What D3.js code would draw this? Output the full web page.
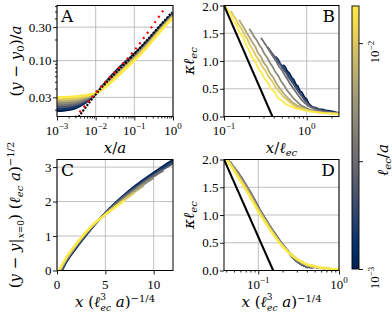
<!DOCTYPE html>
<html>
<head>
<meta charset="utf-8">
<script src="https://cdn.jsdelivr.net/npm/d3@7"></script>
<style>
  body { margin: 0; background: #fff; }
  svg { display: block; }
  text { font-family: "DejaVu Serif", serif; fill: #000; }
  .tick-label { font-family: "Liberation Serif", serif; font-size: 13px; }
</style>
</head>
<body>
<svg id="chart"></svg>
<script>
// ell_ec / a for each simulated curve (colour key), blue -> yellow
const ellValues = [0.001, 0.00147, 0.00215, 0.00316, 0.00464, 0.00681, 0.01, 0.0146];

// Panel A: (y - y0)/a against x/a
const aX = [0.001, 0.002, 0.003, 0.005, 0.007, 0.01, 0.02, 0.05, 0.1, 0.2, 0.5, 1];
const aY = [
  [0.0193, 0.0200, 0.0212, 0.0245, 0.0285, 0.0335, 0.052, 0.088, 0.124, 0.180, 0.320, 0.470],
  [0.0206, 0.0212, 0.0223, 0.0254, 0.0290, 0.0337, 0.051, 0.086, 0.121, 0.176, 0.313, 0.462],
  [0.0219, 0.0225, 0.0235, 0.0263, 0.0296, 0.0338, 0.050, 0.084, 0.118, 0.172, 0.306, 0.453],
  [0.0233, 0.0238, 0.0247, 0.0273, 0.0302, 0.0339, 0.049, 0.081, 0.115, 0.167, 0.299, 0.445],
  [0.0248, 0.0252, 0.0260, 0.0282, 0.0308, 0.0340, 0.048, 0.079, 0.111, 0.163, 0.292, 0.436],
  [0.0265, 0.0268, 0.0275, 0.0293, 0.0314, 0.0341, 0.047, 0.076, 0.108, 0.159, 0.285, 0.428],
  [0.0282, 0.0285, 0.0290, 0.0305, 0.0321, 0.0342, 0.0455, 0.073, 0.104, 0.154, 0.277, 0.419],
  [0.0300, 0.0303, 0.0308, 0.0318, 0.0328, 0.0344, 0.044, 0.070, 0.100, 0.150, 0.270, 0.410]
];
const aBlackX = [0.0036, 0.01, 0.1, 0.94];
const aBlackY = [0.0158, 0.033, 0.124, 0.49];
const aRedX = [0.003, 0.01, 0.1, 0.63];
const aRedY = [0.0155, 0.035, 0.14, 0.57];

// Panel B: kappa*ell_ec against x/ell_ec
const bX = [
  [0.52, 0.55, 0.58, 0.62, 0.66, 0.70, 0.74, 0.78, 0.83, 0.88, 0.94, 1.0, 1.05, 1.1, 1.18, 1.28, 1.4, 1.55, 1.7, 1.9, 2.1, 2.3, 2.45],
  [0.42, 0.45, 0.48, 0.51, 0.55, 0.59, 0.63, 0.68, 0.73, 0.78, 0.84, 0.90, 0.97, 1.04, 1.12, 1.22, 1.35, 1.5, 1.7, 1.95, 2.2, 2.45],
  [0.34, 0.36, 0.39, 0.42, 0.45, 0.48, 0.52, 0.56, 0.60, 0.65, 0.70, 0.75, 0.81, 0.88, 0.95, 1.03, 1.12, 1.25, 1.4, 1.6, 1.85, 2.1, 2.45],
  [0.28, 0.30, 0.32, 0.345, 0.37, 0.40, 0.43, 0.46, 0.50, 0.54, 0.58, 0.63, 0.68, 0.74, 0.80, 0.87, 0.95, 1.05, 1.18, 1.35, 1.6, 1.95, 2.45],
  [0.202, 0.216, 0.23, 0.248, 0.267, 0.285, 0.308, 0.331, 0.359, 0.386, 0.419, 0.451, 0.488, 0.534, 0.58, 0.635, 0.699, 0.773, 0.856, 0.966, 1.1, 1.33, 1.66, 2.45],
  [0.153, 0.162, 0.176, 0.189, 0.203, 0.221, 0.239, 0.257, 0.279, 0.302, 0.329, 0.36, 0.396, 0.432, 0.477, 0.531, 0.594, 0.666, 0.756, 0.864, 0.99, 1.22, 1.53, 2.45],
  [0.121, 0.130, 0.140, 0.149, 0.163, 0.177, 0.191, 0.205, 0.223, 0.242, 0.265, 0.288, 0.316, 0.344, 0.381, 0.419, 0.465, 0.521, 0.586, 0.67, 0.763, 0.884, 1.02, 1.26, 1.63, 2.45],
  [0.10, 0.11, 0.12, 0.13, 0.14, 0.155, 0.17, 0.185, 0.20, 0.22, 0.24, 0.26, 0.285, 0.31, 0.34, 0.37, 0.41, 0.45, 0.50, 0.56, 0.63, 0.72, 0.82, 0.95, 1.1, 1.3, 1.6, 2.0, 2.45]
];
const bY = [
  [0.93, 0.89, 0.82, 0.78, 0.70, 0.66, 0.58, 0.55, 0.46, 0.43, 0.35, 0.31, 0.24, 0.21, 0.17, 0.16, 0.13, 0.13, 0.11, 0.10, 0.09, 0.07, 0.07],
  [1.08, 1.03, 0.95, 0.91, 0.82, 0.78, 0.69, 0.63, 0.55, 0.50, 0.41, 0.36, 0.28, 0.23, 0.18, 0.15, 0.13, 0.11, 0.10, 0.08, 0.07, 0.06],
  [1.25, 1.19, 1.12, 1.06, 0.98, 0.94, 0.85, 0.79, 0.71, 0.64, 0.57, 0.50, 0.43, 0.36, 0.29, 0.23, 0.18, 0.15, 0.12, 0.10, 0.08, 0.07, 0.05],
  [1.42, 1.35, 1.29, 1.21, 1.14, 1.06, 0.99, 0.91, 0.84, 0.75, 0.68, 0.59, 0.52, 0.44, 0.37, 0.30, 0.24, 0.19, 0.15, 0.11, 0.09, 0.07, 0.05],
  [1.58, 1.52, 1.44, 1.38, 1.29, 1.23, 1.13, 1.07, 0.97, 0.90, 0.80, 0.74, 0.64, 0.56, 0.47, 0.40, 0.32, 0.26, 0.20, 0.16, 0.12, 0.09, 0.07, 0.05],
  [1.74, 1.67, 1.59, 1.50, 1.43, 1.33, 1.26, 1.15, 1.08, 0.97, 0.90, 0.78, 0.70, 0.59, 0.50, 0.41, 0.33, 0.26, 0.20, 0.16, 0.12, 0.09, 0.07, 0.05],
  [1.90, 1.82, 1.75, 1.66, 1.58, 1.47, 1.40, 1.29, 1.21, 1.10, 1.02, 0.91, 0.83, 0.72, 0.64, 0.53, 0.45, 0.36, 0.29, 0.22, 0.17, 0.14, 0.11, 0.08, 0.06, 0.05],
  [2.05, 1.93, 1.84, 1.72, 1.66, 1.51, 1.43, 1.29, 1.20, 1.06, 0.99, 0.86, 0.79, 0.68, 0.61, 0.50, 0.44, 0.33, 0.29, 0.22, 0.19, 0.15, 0.13, 0.11, 0.09, 0.08, 0.06, 0.05, 0.04]
];
const bBlackX = [0.1, 0.385];
const bBlackY = [2.0, 0.0];

// Panel C: rescaled height against rescaled x
const cX = [
  [0.5, 1, 2, 3, 4, 5, 6, 7, 8, 9, 10, 11, 12],
  [0.45, 1, 2, 3, 4, 5, 6, 7, 8, 9, 10, 11, 12],
  [0.4, 1, 2, 3, 4, 5, 6, 7, 8, 9, 10, 11, 12],
  [0.35, 1, 2, 3, 4, 5, 6, 7, 8, 9, 10, 11],
  [0.3, 1, 2, 3, 4, 5, 6, 7, 8, 9, 10],
  [0.27, 1, 2, 3, 4, 5, 6, 7, 8, 9],
  [0.23, 1, 2, 3, 4, 5, 6, 7, 8],
  [0.2, 1, 2, 3, 4, 5, 6, 7]
];
const cY = [
  [0, 0.26, 0.66, 1.02, 1.36, 1.67, 1.95, 2.20, 2.43, 2.64, 2.84, 3.03, 3.21],
  [0, 0.28, 0.68, 1.04, 1.37, 1.67, 1.94, 2.18, 2.40, 2.61, 2.80, 2.98, 3.16],
  [0, 0.30, 0.70, 1.06, 1.38, 1.66, 1.92, 2.16, 2.37, 2.57, 2.76, 2.94, 3.11],
  [0, 0.32, 0.72, 1.07, 1.38, 1.65, 1.90, 2.13, 2.34, 2.54, 2.73, 2.90],
  [0, 0.34, 0.74, 1.09, 1.39, 1.64, 1.88, 2.10, 2.31, 2.51, 2.69],
  [0, 0.36, 0.75, 1.10, 1.39, 1.63, 1.86, 2.07, 2.28, 2.47],
  [0, 0.38, 0.77, 1.11, 1.40, 1.62, 1.84, 2.05, 2.25],
  [0, 0.40, 0.78, 1.12, 1.40, 1.62, 1.83, 2.03]
];

// Panel D: kappa*ell_ec against rescaled x
const dX = [0.04, 0.045, 0.05, 0.056, 0.063, 0.07, 0.08, 0.09, 0.1, 0.11, 0.125, 0.14, 0.16, 0.18, 0.2, 0.23, 0.26, 0.3, 0.35, 0.4, 0.48, 0.57, 0.68, 0.8, 1.0];
const dStart = [4, 3, 2, 1, 0, 0, 0, 0];
const dY = [
  [1.60, 1.49, 1.37, 1.23, 1.13, 1.01, 0.91, 0.78, 0.67, 0.55, 0.47, 0.35, 0.27, 0.17, 0.11, 0.06],
  [1.75, 1.63, 1.54, 1.38, 1.27, 1.13, 1.04, 0.90, 0.79, 0.65, 0.56, 0.45, 0.36, 0.25, 0.17, 0.10, 0.07],
  [1.86, 1.75, 1.66, 1.53, 1.41, 1.26, 1.15, 1.02, 0.91, 0.77, 0.66, 0.54, 0.46, 0.35, 0.27, 0.17, 0.12, 0.06, 0.05],
  [1.96, 1.85, 1.77, 1.64, 1.55, 1.39, 1.27, 1.13, 1.03, 0.89, 0.79, 0.64, 0.55, 0.44, 0.36, 0.26, 0.20, 0.11, 0.09, 0.05],
  [2.04, 1.93, 1.86, 1.73, 1.64, 1.51, 1.38, 1.23, 1.12, 1.01, 0.90, 0.77, 0.66, 0.53, 0.46, 0.35, 0.28, 0.18, 0.14, 0.08, 0.07, 0.04],
  [2.04, 1.94, 1.83, 1.73, 1.60, 1.51, 1.35, 1.23, 1.10, 1.01, 0.87, 0.77, 0.63, 0.54, 0.44, 0.36, 0.26, 0.21, 0.13, 0.11, 0.06, 0.05, 0.03],
  [2.03, 1.91, 1.82, 1.70, 1.59, 1.47, 1.34, 1.20, 1.09, 0.98, 0.87, 0.74, 0.63, 0.52, 0.45, 0.34, 0.29, 0.20, 0.16, 0.10, 0.09, 0.05, 0.05, 0.03],
  [2.02, 1.90, 1.80, 1.68, 1.56, 1.45, 1.31, 1.18, 1.06, 0.96, 0.84, 0.73, 0.61, 0.51, 0.43, 0.34, 0.27, 0.21, 0.15, 0.11, 0.08, 0.06, 0.04, 0.03, 0.02]
];
const dBlackX = [0.0376, 0.153];
const dBlackY = [2.0, 0.0];

// tick values
const aXMajor = [1e-3, 1e-2, 1e-1, 1];
const aYMajor = [0.03, 0.1, 0.3];
const aYLabels = ["0.03", "0.10", "0.30"];
const bXMajor = [0.1, 1];
const kYMajor = [0, 0.5, 1, 1.5, 2];
const kYLabels = ["0.0", "0.5", "1.0", "1.5", "2.0"];
const cXMajor = [0, 5, 10];
const cYMajor = [0, 1, 2, 3];
const dXMajor = [0.1, 1];
const cbMajor = [1e-3, 1e-2];
const cbMinor = [3e-3];

const W = 392, H = 314;
const svg = d3.select("#chart").attr("width", W).attr("height", H);
svg.append("rect").attr("width", W).attr("height", H).attr("fill", "#fff");

const cbDomain = [1e-3, 0.0146];
const cbT = d3.scaleLog().domain(cbDomain).range([0, 1]);
const color = v => d3.interpolateCividis(cbT(v));

const boxes = {
  A: { l: 57, r: 173, t: 5.5, b: 116.5 },
  B: { l: 224, r: 339, t: 5.5, b: 116.5 },
  C: { l: 57, r: 173, t: 159.5, b: 270.5 },
  D: { l: 224, r: 339, t: 159.5, b: 270.5 }
};

function logMinors(lo, hi) {
  const out = [];
  for (let e = Math.floor(Math.log10(lo)); e <= Math.ceil(Math.log10(hi)); e++) {
    for (let m = 2; m <= 9; m++) {
      const v = m * Math.pow(10, e);
      if (v >= lo && v <= hi) out.push(v);
    }
  }
  return out;
}

// writes math-like text from parts: {t, i: italic, v: vertical offset, s: size, dx}
function rich(sel, parts) {
  let shift = 0;
  parts.forEach(p => {
    const ts = sel.append("tspan").text(p.t);
    if (p.i) ts.attr("font-style", "italic");
    const v = p.v || 0;
    if (v !== shift) { ts.attr("dy", v - shift); shift = v; }
    if (p.s) ts.attr("font-size", p.s);
    if (p.dx) ts.attr("dx", p.dx);
  });
  return sel;
}

const pow10 = v => [{ t: "10" }, { t: "\u2212" + Math.round(-Math.log10(v)), v: -5.5, s: 9 }];
const pow10pos = v => [{ t: "10" }, { t: String(Math.round(Math.log10(v))), v: -5.5, s: 9 }];
const logLabel = v => v < 1 ? pow10(v) : pow10pos(v);

function panel(key, x, y, o) {
  const bx = boxes[key];
  const g = svg.append("g");
  // grid
  g.append("g").selectAll("line").data(o.xMajor).join("line")
    .attr("x1", d => x(d)).attr("x2", d => x(d)).attr("y1", bx.t).attr("y2", bx.b)
    .attr("stroke", "#b0b0b0").attr("stroke-width", 0.8);
  g.append("g").selectAll("line").data(o.yMajor).join("line")
    .attr("y1", d => y(d)).attr("y2", d => y(d)).attr("x1", bx.l).attr("x2", bx.r)
    .attr("stroke", "#b0b0b0").attr("stroke-width", 0.8);

  svg.append("clipPath").attr("id", "clip" + key).append("rect")
    .attr("x", bx.l).attr("y", bx.t).attr("width", bx.r - bx.l).attr("height", bx.b - bx.t);
  const plot = g.append("g").attr("clip-path", `url(#clip${key})`);
  o.draw(plot);

  // axes
  const strip = s => s.call(a => a.select(".domain").remove()).selectAll("line").attr("stroke-width", 0.9);
  g.append("g").attr("transform", `translate(0,${bx.b})`)
    .call(d3.axisBottom(x).tickValues(o.xMajor).tickSize(4).tickFormat("")).call(strip);
  g.append("g").attr("transform", `translate(${bx.l},0)`)
    .call(d3.axisLeft(y).tickValues(o.yMajor).tickSize(4).tickFormat("")).call(strip);
  if (o.xMinor) g.append("g").attr("transform", `translate(0,${bx.b})`)
    .call(d3.axisBottom(x).tickValues(o.xMinor).tickSize(2).tickFormat("")).call(strip);
  if (o.yMinor) g.append("g").attr("transform", `translate(${bx.l},0)`)
    .call(d3.axisLeft(y).tickValues(o.yMinor).tickSize(2).tickFormat("")).call(strip);

  // frame
  g.append("rect").attr("x", bx.l).attr("y", bx.t).attr("width", bx.r - bx.l).attr("height", bx.b - bx.t)
    .attr("fill", "none").attr("stroke", "#000").attr("stroke-width", 1);

  // tick labels
  o.xMajor.forEach((v, i) => {
    rich(g.append("text").attr("class", "tick-label").attr("text-anchor", "middle")
      .attr("x", x(v)).attr("y", bx.b + 18), o.xFmt(v, i));
  });
  o.yMajor.forEach((v, i) => {
    g.append("text").attr("class", "tick-label").attr("text-anchor", "end")
      .attr("x", bx.l - 5.5).attr("y", Math.max(y(v) + 4.5, 11)).text(o.yFmt(v, i));
  });

  // axis titles
  rich(g.append("text").attr("font-size", 15).attr("text-anchor", "middle")
    .attr("x", (bx.l + bx.r) / 2).attr("y", bx.b + 36.5), o.xTitle);
  const ty = (bx.t + bx.b) / 2;
  rich(g.append("text").attr("font-size", 15).attr("text-anchor", "middle")
    .attr("transform", `translate(${bx.l + o.yTitleDx},${ty}) rotate(-90)`), o.yTitle);

  // panel letter
  g.append("text").attr("font-family", "DejaVu Sans").attr("font-size", 17)
    .attr("text-anchor", o.letterRight ? "end" : "start")
    .attr("x", o.letterRight ? bx.r - 4 : bx.l + 4).attr("y", bx.t + 16.5).text(key);
}

// A
{
  const bx = boxes.A;
  const x = d3.scaleLog().domain([1e-3, 1]).range([bx.l, bx.r]);
  const y = d3.scaleLog().domain([0.016, 0.61]).range([bx.b, bx.t]);
  const line = d3.line().x(d => x(d[0])).y(d => y(d[1])).curve(d3.curveMonotoneX);
  panel("A", x, y, {
    xMajor: aXMajor, yMajor: aYMajor,
    xMinor: logMinors(1e-3, 1), yMinor: logMinors(0.016, 0.61).filter(v => Math.abs(v - 0.3) > 1e-9 && Math.abs(v - 0.03) > 1e-9),
    xFmt: v => logLabel(v), yFmt: (v, i) => aYLabels[i],
    xTitle: [{ t: "x", i: 1 }, { t: "/" }, { t: "a", i: 1 }],
    yTitle: [{ t: "(" }, { t: "y", i: 1 }, { t: " \u2212 " }, { t: "y", i: 1 }, { t: "0", v: 3, s: 10 }, { t: ")/" }, { t: "a", i: 1 }],
    yTitleDx: -36,
    draw: p => {
      aY.forEach((ys, k) => {
        p.append("path").datum(d3.zip(aX, ys)).attr("d", line)
          .attr("fill", "none").attr("stroke", color(ellValues[k])).attr("stroke-width", 2.6);
      });
      p.append("path").datum(d3.zip(aBlackX, aBlackY))
        .attr("d", d3.line().x(d => x(d[0])).y(d => y(d[1])).curve(d3.curveMonotoneX))
        .attr("fill", "none").attr("stroke", "#000").attr("stroke-width", 2.2).attr("stroke-dasharray", "2,1.4");
      p.append("path").datum(d3.zip(aRedX, aRedY))
        .attr("d", d3.line().x(d => x(d[0])).y(d => y(d[1])).curve(d3.curveMonotoneX))
        .attr("fill", "none").attr("stroke", "#ff0000").attr("stroke-width", 2.2).attr("stroke-dasharray", "2,4.5");
    }
  });
}

const kappaTitle = [{ t: "\u03ba", i: 1 }, { t: "\u2113", i: 1 }, { t: "ec", i: 1, v: 3, s: 10 }];

// B
{
  const bx = boxes.B;
  const x = d3.scaleLog().domain([0.1, 2.46]).range([bx.l, bx.r]);
  const y = d3.scaleLinear().domain([0, 2]).range([bx.b, bx.t]);
  const line = d3.line().x(d => x(d[0])).y(d => y(d[1]));
  panel("B", x, y, {
    xMajor: bXMajor, yMajor: kYMajor,
    xMinor: logMinors(0.1, 2.46),
    xFmt: v => logLabel(v), yFmt: (v, i) => kYLabels[i],
    xTitle: [{ t: "x", i: 1 }, { t: "/" }, { t: "\u2113", i: 1 }, { t: "ec", i: 1, v: 3, s: 10 }],
    yTitle: kappaTitle, yTitleDx: -30, letterRight: true,
    draw: p => {
      bY.forEach((ys, k) => {
        p.append("path").datum(d3.zip(bX[k], ys)).attr("d", line)
          .attr("fill", "none").attr("stroke", color(ellValues[k])).attr("stroke-width", 1.8);
      });
      p.append("path").datum(d3.zip(bBlackX, bBlackY)).attr("d", line)
        .attr("fill", "none").attr("stroke", "#000").attr("stroke-width", 2);
    }
  });
}

const scaledXTitle = [{ t: "x", i: 1 }, { t: " (" }, { t: "\u2113", i: 1 }, { t: "3", v: -6.8, s: 9 },
  { t: "ec", i: 1, v: 4.2, s: 9, dx: -5.5 }, { t: " " }, { t: "a", i: 1 }, { t: ")" }, { t: "\u22121/4", v: -5.5, s: 10 }];

// C
{
  const bx = boxes.C;
  const x = d3.scaleLinear().domain([0, 12]).range([bx.l, bx.r]);
  const y = d3.scaleLinear().domain([0, 3.22]).range([bx.b, bx.t]);
  const line = d3.line().x(d => x(d[0])).y(d => y(d[1])).curve(d3.curveMonotoneX);
  panel("C", x, y, {
    xMajor: cXMajor, yMajor: cYMajor,
    xFmt: v => [{ t: String(v) }], yFmt: v => String(v),
    xTitle: scaledXTitle,
    yTitle: [{ t: "(" }, { t: "y", i: 1 }, { t: " \u2212 " }, { t: "y", i: 1 }, { t: "|" },
      { t: "x", i: 1, v: 4, s: 9 }, { t: "=0", v: 4, s: 9 }, { t: ") (" }, { t: "\u2113", i: 1 },
      { t: "ec", i: 1, v: 3, s: 10 }, { t: " " }, { t: "a", i: 1 }, { t: ")" }, { t: "\u22121/2", v: -6.5, s: 10 }],
    yTitleDx: -37,
    draw: p => {
      cY.forEach((ys, k) => {
        p.append("path").datum(d3.zip(cX[k], ys)).attr("d", line)
          .attr("fill", "none").attr("stroke", color(ellValues[k])).attr("stroke-width", 2.2);
      });
    }
  });
}

// D
{
  const bx = boxes.D;
  const x = d3.scaleLog().domain([0.0376, 1]).range([bx.l, bx.r]);
  const y = d3.scaleLinear().domain([0, 2]).range([bx.b, bx.t]);
  const line = d3.line().x(d => x(d[0])).y(d => y(d[1]));
  panel("D", x, y, {
    xMajor: dXMajor, yMajor: kYMajor,
    xMinor: logMinors(0.0376, 1),
    xFmt: v => logLabel(v), yFmt: (v, i) => kYLabels[i],
    xTitle: scaledXTitle,
    yTitle: kappaTitle, yTitleDx: -30, letterRight: true,
    draw: p => {
      dY.forEach((ys, k) => {
        const xs = dX.slice(dStart[k], dStart[k] + ys.length);
        p.append("path").datum(d3.zip(xs, ys)).attr("d", line)
          .attr("fill", "none").attr("stroke", color(ellValues[k])).attr("stroke-width", 2.2);
      });
      p.append("path").datum(d3.zip(dBlackX, dBlackY)).attr("d", line)
        .attr("fill", "none").attr("stroke", "#000").attr("stroke-width", 2);
    }
  });
}

// colour bar
{
  const cb = { l: 352, r: 359, t: 6, b: 269 };
  const cy = d3.scaleLog().domain(cbDomain).range([cb.b, cb.t]);
  const grad = svg.append("defs").append("linearGradient").attr("id", "cbgrad")
    .attr("x1", 0).attr("y1", 1).attr("x2", 0).attr("y2", 0);
  d3.range(0, 1.0001, 0.05).forEach(t => {
    grad.append("stop").attr("offset", t).attr("stop-color", d3.interpolateCividis(t));
  });
  svg.append("rect").attr("x", cb.l).attr("y", cb.t).attr("width", cb.r - cb.l).attr("height", cb.b - cb.t)
    .attr("fill", "url(#cbgrad)").attr("stroke", "#000").attr("stroke-width", 0.9);
  svg.append("g").attr("transform", `translate(${cb.r},0)`)
    .call(d3.axisRight(cy).tickValues(cbMajor.concat(cbMinor)).tickSize(4).tickFormat(""))
    .call(a => a.select(".domain").remove()).selectAll("line").attr("stroke-width", 0.9);
  cbMajor.forEach(v => {
    rich(svg.append("text").attr("class", "tick-label").attr("text-anchor", "middle")
      .attr("transform", `translate(379,${cy(v) + 9}) rotate(-90)`), pow10(v));
  });
  rich(svg.append("text").attr("font-size", 15).attr("text-anchor", "middle")
    .attr("transform", `translate(388,160) rotate(-90)`),
    [{ t: "\u2113", i: 1 }, { t: "ec", i: 1, v: 3, s: 10 }, { t: "/" }, { t: "a", i: 1 }]);
}
</script>
</body>
</html>
